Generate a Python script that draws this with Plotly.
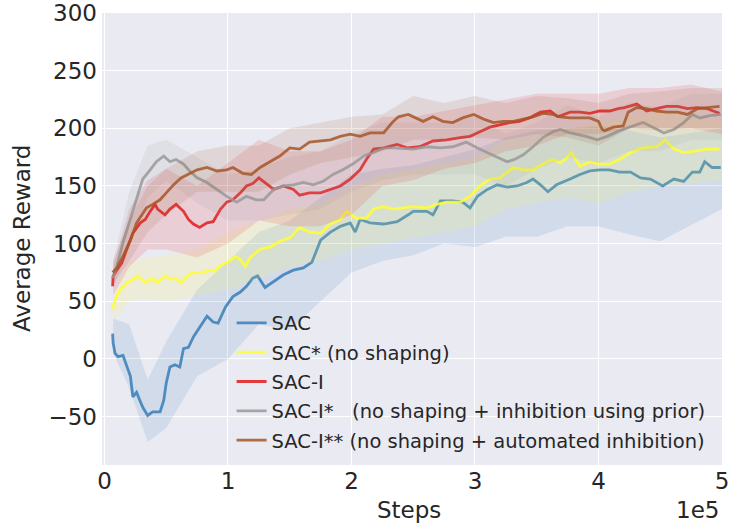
import plotly.graph_objects as go

# step axis is in units of 1e5
NAMES = [
    "SAC",
    "SAC* (no shaping)",
    "SAC-I",
    "SAC-I*   (no shaping + inhibition using prior)",
    "SAC-I** (no shaping + automated inhibition)",
]
COLORS = ["#377eb8", "#ffff33", "#e41a1c", "#999999", "#a65628"]

sac_x = [0.066, 0.07, 0.085, 0.11, 0.15, 0.18, 0.21, 0.23, 0.26, 0.29, 0.31, 0.35, 0.39, 0.45, 0.48,
         0.50, 0.53, 0.57, 0.61, 0.64, 0.68, 0.72, 0.77, 0.83, 0.88, 0.92, 0.98, 1.04, 1.10, 1.15,
         1.20, 1.24, 1.30, 1.37, 1.45, 1.53, 1.61, 1.68, 1.75, 1.83, 1.91, 1.99, 2.03, 2.07, 2.15,
         2.26, 2.37, 2.46, 2.50, 2.61, 2.66, 2.72, 2.82, 2.90, 2.96, 3.02, 3.10, 3.18, 3.26, 3.34,
         3.42, 3.47, 3.53, 3.59, 3.66, 3.77, 3.85, 3.93, 4.01, 4.09, 4.17, 4.26, 4.34, 4.42, 4.52,
         4.61, 4.69, 4.76, 4.82, 4.86, 4.92, 4.99]
sac_y = [22, 14, 5, 2, 3, -7, -15, -33, -29, -37, -42, -49, -46, -46, -36,
         -21, -7, -5, -7, 9, 10, 19, 27, 37, 32, 31, 45, 54, 58, 63,
         70, 72, 62, 67, 73, 77, 79, 84, 103, 110, 115, 118, 110, 121, 118,
         117, 119, 125, 128, 128, 125, 137, 137, 136, 131, 141, 147, 151, 149, 150,
         153, 156, 151, 145, 151, 156, 160, 163, 164, 164, 162, 162, 157, 156, 150,
         156, 154, 162, 162, 171, 166, 166]

sac_ns_x = [0.066, 0.085, 0.125, 0.18, 0.23, 0.27, 0.33, 0.39, 0.43, 0.49, 0.54, 0.58, 0.62, 0.67, 0.72,
            0.80, 0.85, 0.89, 0.95, 1.00, 1.06, 1.10, 1.14, 1.18, 1.26, 1.34, 1.42, 1.50, 1.58, 1.66,
            1.75, 1.83, 1.91, 1.96, 2.04, 2.12, 2.18, 2.26, 2.34, 2.42, 2.50, 2.61, 2.69, 2.77, 2.88,
            2.96, 3.04, 3.12, 3.20, 3.26, 3.31, 3.39, 3.47, 3.55, 3.63, 3.69, 3.73, 3.78, 3.85, 3.93,
            4.01, 4.09, 4.17, 4.26, 4.36, 4.47, 4.54, 4.61, 4.69, 4.77, 4.88, 4.98]
sac_ns_y = [43, 51, 60, 66, 69, 72, 66, 70, 66, 72, 69, 70, 66, 72, 75,
            75, 77, 76, 82, 84, 89, 86, 80, 88, 95, 97, 102, 105, 114, 110,
            109, 117, 121, 128, 122, 122, 130, 132, 130, 131, 132, 131, 134, 136, 136,
            141, 150, 156, 157, 162, 166, 164, 164, 169, 173, 170, 173, 179, 167, 171,
            169, 169, 173, 179, 183, 184, 190, 182, 179, 180, 182, 182]

saci_x = [0.066, 0.07, 0.10, 0.14, 0.18, 0.23, 0.29, 0.33, 0.37, 0.41, 0.43, 0.49, 0.53, 0.58, 0.64,
          0.68, 0.72, 0.77, 0.83, 0.88, 0.94, 0.99, 1.04, 1.10, 1.15, 1.20, 1.25, 1.30, 1.37, 1.45,
          1.53, 1.58, 1.66, 1.75, 1.83, 1.91, 1.99, 2.07, 2.12, 2.18, 2.26, 2.37, 2.45, 2.55, 2.66,
          2.77, 2.88, 2.96, 3.04, 3.12, 3.20, 3.28, 3.36, 3.44, 3.53, 3.61, 3.67, 3.77, 3.85, 3.93,
          4.01, 4.09, 4.16, 4.21, 4.31, 4.39, 4.47, 4.55, 4.64, 4.72, 4.80, 4.88, 4.93, 4.98]
saci_y = [63, 72, 77, 83, 95, 109, 118, 121, 128, 134, 130, 125, 130, 134, 128,
          121, 117, 114, 118, 119, 130, 136, 138, 144, 150, 152, 157, 153, 147, 150,
          147, 142, 144, 144, 147, 150, 156, 164, 173, 182, 183, 186, 183, 184, 189,
          190, 192, 193, 197, 201, 203, 205, 206, 209, 214, 215, 210, 214, 214, 213,
          215, 215, 217, 218, 221, 215, 217, 219, 219, 217, 218, 217, 215, 213]

saci_prior_x = [0.066, 0.10, 0.15, 0.21, 0.26, 0.31, 0.37, 0.42, 0.48, 0.53, 0.58, 0.64, 0.69, 0.75, 0.83,
                0.91, 0.99, 1.07, 1.15, 1.23, 1.29, 1.37, 1.45, 1.53, 1.61, 1.69, 1.77, 1.85, 1.93, 2.01,
                2.10, 2.18, 2.26, 2.34, 2.45, 2.50, 2.61, 2.72, 2.82, 2.93, 3.02, 3.10, 3.18, 3.26, 3.32,
                3.39, 3.47, 3.55, 3.63, 3.69, 3.77, 3.90, 3.99, 4.07, 4.17, 4.28, 4.36, 4.44, 4.53, 4.61,
                4.69, 4.76, 4.82, 4.90, 4.99]
saci_prior_y = [70, 80, 101, 121, 138, 156, 164, 171, 176, 171, 173, 169, 163, 157, 153,
                147, 141, 136, 141, 138, 138, 147, 150, 151, 153, 151, 154, 160, 164, 169,
                176, 179, 183, 183, 182, 182, 184, 183, 184, 188, 183, 179, 175, 171, 173,
                177, 184, 192, 197, 199, 196, 193, 190, 193, 198, 202, 205, 201, 196, 199,
                205, 212, 209, 211, 212]

saci_auto_x = [0.066, 0.10, 0.15, 0.21, 0.26, 0.30, 0.34, 0.39, 0.45, 0.50, 0.56, 0.62, 0.69, 0.75, 0.83,
               0.91, 0.99, 1.04, 1.12, 1.19, 1.26, 1.34, 1.42, 1.50, 1.58, 1.66, 1.75, 1.83, 1.91, 1.99,
               2.07, 2.15, 2.26, 2.33, 2.38, 2.46, 2.58, 2.66, 2.74, 2.82, 2.90, 2.99, 3.07, 3.15, 3.23,
               3.31, 3.39, 3.47, 3.55, 3.63, 3.69, 3.77, 3.85, 3.93, 4.00, 4.03, 4.05, 4.12, 4.20, 4.24,
               4.31, 4.39, 4.47, 4.55, 4.64, 4.72, 4.80, 4.88, 4.98]
saci_auto_y = [75, 79, 89, 103, 118, 125, 131, 134, 138, 144, 151, 157, 161, 164, 166,
               163, 164, 166, 161, 160, 166, 171, 176, 183, 182, 188, 189, 190, 193, 195,
               193, 196, 196, 205, 210, 212, 206, 210, 206, 205, 209, 212, 208, 205, 206,
               206, 208, 210, 213, 212, 210, 209, 209, 209, 206, 199, 198, 201, 202, 214,
               218, 217, 215, 214, 214, 212, 217, 218, 219]

# spread bands (shared x grid)
band_x = [0.07, 0.2, 0.35, 0.5, 0.75, 1.0, 1.25, 1.5, 1.75, 2.0, 2.25,
          2.5, 2.75, 3.0, 3.25, 3.5, 3.75, 4.0, 4.25, 4.5, 4.75, 5.0]
sac_lo = [5, -25, -72, -60, -15, 0, 30, 25, 50, 75, 85, 90, 100, 97, 106, 106, 115, 115, 108, 102, 116, 130]
sac_hi = [35, 30, -18, 15, 60, 85, 110, 120, 140, 160, 165, 168, 175, 182, 192, 198, 200, 202, 198, 192, 196, 200]
sac_ns_lo = [32, 50, 52, 50, 55, 60, 70, 80, 85, 95, 100, 105, 110, 115, 130, 135, 140, 135, 145, 150, 152, 155]
sac_ns_hi = [55, 85, 88, 90, 95, 110, 120, 130, 135, 150, 160, 165, 170, 175, 190, 195, 200, 205, 210, 215, 210, 205]
saci_lo = [55, 80, 95, 95, 88, 100, 120, 115, 115, 125, 150, 155, 165, 170, 180, 185, 195, 195, 200, 200, 200, 195]
saci_hi = [80, 130, 155, 165, 150, 170, 190, 180, 180, 190, 210, 210, 215, 220, 225, 230, 230, 230, 235, 235, 238, 232]
saci_prior_lo = [60, 100, 140, 155, 135, 120, 120, 125, 130, 145, 155, 160, 160, 160, 150, 165, 175, 170, 180, 180, 190, 190]
saci_prior_hi = [85, 145, 185, 190, 175, 160, 165, 175, 180, 195, 205, 205, 205, 210, 195, 205, 220, 210, 222, 218, 230, 230]
saci_auto_lo = [65, 85, 110, 125, 145, 145, 145, 160, 170, 175, 180, 190, 190, 192, 190, 195, 192, 185, 200, 198, 200, 200]
saci_auto_hi = [85, 120, 150, 165, 180, 185, 185, 200, 205, 210, 212, 228, 222, 228, 222, 228, 226, 222, 230, 232, 235, 235]

SERIES = [
    (sac_x, sac_y, sac_lo, sac_hi),
    (sac_ns_x, sac_ns_y, sac_ns_lo, sac_ns_hi),
    (saci_x, saci_y, saci_lo, saci_hi),
    (saci_prior_x, saci_prior_y, saci_prior_lo, saci_prior_hi),
    (saci_auto_x, saci_auto_y, saci_auto_lo, saci_auto_hi),
]


def rgba(hex_color, a):
    h = hex_color.lstrip("#")
    r, g, b = int(h[0:2], 16), int(h[2:4], 16), int(h[4:6], 16)
    return f"rgba({r}, {g}, {b}, {a})"


TEXT = "#262626"
FONT = "DejaVu Sans"

fig = go.Figure()
for i, (xs, ys, lo, hi) in enumerate(SERIES):
    fig.add_trace(go.Scatter(
        x=band_x + band_x[::-1],
        y=hi + lo[::-1],
        fill="toself",
        fillcolor=rgba(COLORS[i], 0.13),
        line=dict(width=0),
        hoverinfo="skip",
        showlegend=False,
        legendgroup=f"g{i}",
    ))
    fig.add_trace(go.Scatter(
        x=xs, y=ys,
        mode="lines",
        name=NAMES[i],
        line=dict(color=rgba(COLORS[i], 0.85), width=2.8),
        legendgroup=f"g{i}",
    ))

# offset label for the scaled step axis, and axis titles placed by hand
fig.add_annotation(
    x=0.96, y=-0.1, xref="paper", yref="paper",
    text="1e5", showarrow=False, xanchor="center", yanchor="middle",
    font=dict(size=23, color=TEXT, family=FONT),
)
fig.add_annotation(
    x=0.495, y=-0.1, xref="paper", yref="paper",
    text="Steps", showarrow=False, xanchor="center", yanchor="middle",
    font=dict(size=23, color=TEXT, family=FONT),
)
fig.add_annotation(
    x=-0.129, y=0.5, xref="paper", yref="paper",
    text="Average Reward", showarrow=False, textangle=-90,
    xanchor="center", yanchor="middle",
    font=dict(size=23, color=TEXT, family=FONT),
)

fig.update_layout(
    width=739, height=530,
    margin=dict(l=102, r=17, t=13, b=65, autoexpand=False),
    paper_bgcolor="white",
    plot_bgcolor="#eaeaf2",
    font=dict(family=FONT, color=TEXT),
    legend=dict(
        x=0.209, y=0.357, xanchor="left", yanchor="top",
        bgcolor="rgba(0,0,0,0)",
        font=dict(size=19.5, color=TEXT, family=FONT),
        traceorder="grouped",
        tracegroupgap=1,
    ),
    xaxis=dict(
        range=[-0.02, 5.0],
        tickvals=[0, 1, 2, 3, 4, 5],
        showgrid=True, gridcolor="white", gridwidth=1,
        zeroline=False, showline=False,
        tickfont=dict(size=23, color=TEXT),
    ),
    yaxis=dict(
        range=[-92, 300],
        tickvals=[-50, 0, 50, 100, 150, 200, 250, 300],
        showgrid=True, gridcolor="white", gridwidth=1,
        zeroline=False, showline=False,
        tickfont=dict(size=23, color=TEXT),
        ticklabelstandoff=4,
    ),
)

# drop the default page margin so the figure sits at the window's corner
fig.write_html(
    "out.html",
    config={"displayModeBar": False},
    post_script="document.body.style.margin = '0';",
)
